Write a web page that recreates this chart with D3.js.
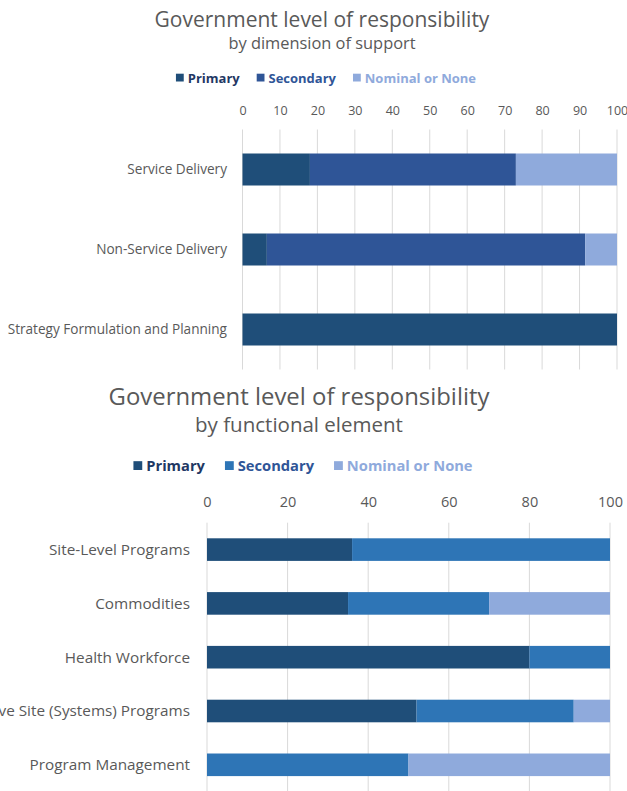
<!DOCTYPE html>
<html>
<head>
<meta charset="utf-8">
<script src="https://cdn.jsdelivr.net/npm/d3@7"></script>
<style>
  html, body { margin: 0; padding: 0; background: #fff; }
  svg { display: block; font-family: "Open Sans", Lato, sans-serif; }
</style>
</head>
<body>
<div id="chart"></div>
<script>
// Government level of responsibility — two stacked horizontal bar charts

const SERIES = ["Primary", "Secondary", "Nominal or None"];

// chart 1 : by dimension of support
const dimCategories = ["Service Delivery", "Non-Service Delivery", "Strategy Formulation and Planning"];
const dimPrimary    = [18, 6.5, 100];
const dimSecondary  = [55, 85, 0];
const dimNominal    = [27, 8.5, 0];
const dimTicks      = [0, 10, 20, 30, 40, 50, 60, 70, 80, 90, 100];

// chart 2 : by functional element
const funcCategories = ["Site-Level Programs", "Commodities", "Health Workforce", "Above Site (Systems) Programs", "Program Management"];
const funcPrimary    = [36, 35, 80, 52, 0];
const funcSecondary  = [64, 35, 20, 39, 50];
const funcNominal    = [0, 30, 0, 9, 50];
const funcTicks      = [0, 20, 40, 60, 80, 100];

const width = 627, height = 791;

const svg = d3.select("#chart").append("svg")
  .attr("width", width)
  .attr("height", height);

function drawChart(cfg) {
  const g = svg.append("g");

  // Titres
  g.append("text")
    .attr("x", cfg.titleX).attr("y", cfg.titleY)
    .attr("text-anchor", "middle")
    .attr("fill", "#595959")
    .style("font-size", cfg.titleSize + "px")
    .text("Government level of responsibility");
  g.append("text")
    .attr("x", cfg.titleX).attr("y", cfg.subY)
    .attr("text-anchor", "middle")
    .attr("fill", "#595959")
    .style("font-size", cfg.subSize + "px")
    .text(cfg.subtitle);

  // Légende
  const leg = g.append("g");
  const sq = cfg.legSize * 0.6;
  let lx = 0;
  SERIES.forEach((s, i) => {
    const item = leg.append("g").attr("transform", `translate(${lx},0)`);
    item.append("rect")
      .attr("x", 0).attr("y", -sq - 1)
      .attr("width", sq).attr("height", sq)
      .attr("fill", cfg.colors[i]);
    const t = item.append("text")
      .attr("x", sq + 4).attr("y", 0)
      .attr("fill", cfg.legText[i])
      .style("font-size", cfg.legSize + "px")
      .style("font-weight", "bold")
      .text(s);
    lx += sq + 4 + t.node().getComputedTextLength() + cfg.legGap;
  });
  lx -= cfg.legGap;
  leg.attr("transform", `translate(${cfg.legCenter - lx / 2},${cfg.legY})`);

  // Échelles
  const x = d3.scaleLinear().domain([0, 100]).range(cfg.xRange);
  const y = d3.scaleBand()
    .domain(cfg.categories)
    .range(cfg.yRange)
    .paddingInner(cfg.pad)
    .paddingOuter(cfg.pad / 2);

  // Gridlines verticales
  g.append("g")
    .selectAll("line")
    .data(cfg.ticks)
    .join("line")
      .attr("x1", d => x(d)).attr("x2", d => x(d))
      .attr("y1", cfg.yRange[0]).attr("y2", cfg.yRange[1])
      .attr("stroke", "#d9d9d9")
      .attr("stroke-width", 1);

  // Axe du haut
  const axis = g.append("g")
    .attr("transform", `translate(0,${cfg.tickY})`)
    .call(d3.axisTop(x).tickValues(cfg.ticks).tickSize(0).tickPadding(0));
  axis.select(".domain").remove();
  axis.selectAll("text")
    .attr("fill", "#595959")
    .style("font-size", cfg.tickSize + "px")
    .style("font-family", "'Open Sans', sans-serif");

  // Étiquettes catégories
  g.append("g")
    .selectAll("text")
    .data(cfg.categories)
    .join("text")
      .attr("x", cfg.labelX)
      .attr("y", d => y(d) + y.bandwidth() / 2)
      .attr("dy", "0.35em")
      .attr("text-anchor", "end")
      .attr("fill", "#595959")
      .style("font-size", cfg.labelSize + "px")
      .text(d => d);

  // Barres empilées
  const rows = cfg.categories.map((c, i) => ({
    cat: c, "Primary": cfg.primary[i], "Secondary": cfg.secondary[i], "Nominal or None": cfg.nominal[i]
  }));
  const stacked = d3.stack().keys(SERIES)(rows);
  g.append("g")
    .selectAll("g")
    .data(stacked)
    .join("g")
      .attr("fill", (d, i) => cfg.colors[i])
    .selectAll("rect")
    .data(d => d)
    .join("rect")
      .attr("x", d => x(d[0]))
      .attr("y", d => y(d.data.cat))
      .attr("width", d => x(d[1]) - x(d[0]))
      .attr("height", y.bandwidth());
}

drawChart({
  subtitle: "by dimension of support",
  titleX: 322, titleY: 27, titleSize: 21,
  subY: 49, subSize: 16.4,
  legCenter: 326, legY: 82.5, legSize: 13, legGap: 17,
  colors: ["#1f4e79", "#2f5597", "#8faadc"],
  legText: ["#1f3864", "#2f5597", "#8faadc"],
  categories: dimCategories,
  primary: dimPrimary, secondary: dimSecondary, nominal: dimNominal,
  ticks: dimTicks,
  xRange: [242.5, 617],
  yRange: [129.5, 369.5],
  pad: 0.6,
  tickY: 115, tickSize: 12.5,
  labelX: 227, labelSize: 13.6
});

drawChart({
  subtitle: "by functional element",
  titleX: 299, titleY: 405, titleSize: 23.9,
  subY: 432, subSize: 20.5,
  legCenter: 303, legY: 471, legSize: 14.7, legGap: 20,
  colors: ["#1f4e79", "#2e75b6", "#8faadc"],
  legText: ["#1f3864", "#2f5597", "#8faadc"],
  categories: funcCategories,
  primary: funcPrimary, secondary: funcSecondary, nominal: funcNominal,
  ticks: funcTicks,
  xRange: [207, 610],
  yRange: [522.7, 791.7],
  pad: 0.58,
  tickY: 507, tickSize: 14.5,
  labelX: 190, labelSize: 15.3
});
</script>
</body>
</html>
